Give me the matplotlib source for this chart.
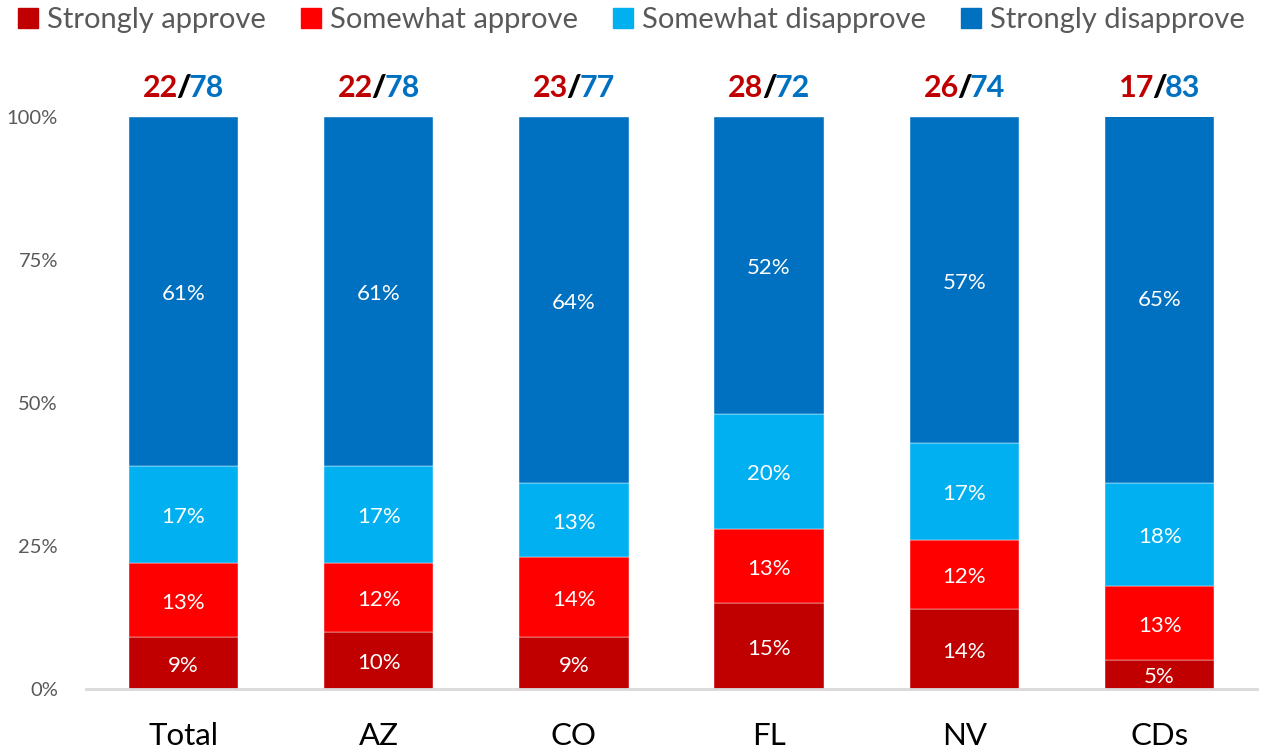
import matplotlib
matplotlib.use("Agg")
import matplotlib.pyplot as plt
import numpy as np
from matplotlib.lines import Line2D

plt.rcParams["font.family"] = ["Lato", "DejaVu Sans"]

# data
groups = ["Total", "AZ", "CO", "FL", "NV", "CDs"]
strongly_approve = [9, 10, 9, 15, 14, 5]
somewhat_approve = [13, 12, 14, 13, 12, 13]
somewhat_disapprove = [17, 17, 13, 20, 17, 18]
strongly_disapprove = [61, 61, 64, 52, 57, 65]
approve_total = [22, 22, 23, 28, 26, 17]
disapprove_total = [78, 78, 77, 72, 74, 83]

series_names = ["Strongly approve", "Somewhat approve", "Somewhat disapprove", "Strongly disapprove"]
colors = ["#C00000", "#FF0000", "#00B0F0", "#0070C0"]

fig = plt.figure(figsize=(12.61, 7.53), dpi=100)
ax = fig.add_axes([0.068, 0.085, 0.929, 0.76])

x = np.arange(len(groups))
bottom = np.zeros(len(groups))
for name, vals, col in zip(series_names,
                           [strongly_approve, somewhat_approve, somewhat_disapprove, strongly_disapprove],
                           colors):
    vals = np.array(vals, dtype=float)
    ax.bar(x, vals, 0.56, bottom=bottom, color=col, edgecolor="#ffffff", linewidth=0.3, zorder=2)
    # white percent labels in the middle of each segment
    for xi, b, v in zip(x, bottom, vals):
        ax.annotate(f"{int(v)}%", (xi, b + v / 2), xytext=(0, -2), textcoords="offset points",
                    ha="center", va="center", color="white", fontsize=16, zorder=3)
    bottom += vals

# approve/disapprove totals above each bar
for xi, a, d in zip(x, approve_total, disapprove_total):
    y = 1.035
    tr = ax.get_xaxis_transform()
    ax.annotate("/", (xi, y), xycoords=tr, ha="center", va="baseline",
                fontsize=22, fontweight="heavy", color="black")
    ax.annotate(str(a), (xi, y), xycoords=tr, xytext=(-4, 0), textcoords="offset points",
                ha="right", va="baseline", fontsize=22, fontweight="bold", color="#C00000")
    ax.annotate(str(d), (xi, y), xycoords=tr, xytext=(4, 0), textcoords="offset points",
                ha="left", va="baseline", fontsize=22, fontweight="bold", color="#0070C0")

ax.set_xlim(-0.5, len(groups) - 0.5)
ax.set_ylim(0, 100)
ax.set_yticks([0, 25, 50, 75, 100])
ax.set_yticklabels(["0%", "25%", "50%", "75%", "100%"])
ax.set_xticks(x)
ax.set_xticklabels(groups)
ax.tick_params(axis="y", length=0, labelsize=14.5, labelcolor="#595959", pad=20)
ax.tick_params(axis="x", length=0, labelsize=22.5, labelcolor="black", pad=24)

for side in ["top", "right", "left"]:
    ax.spines[side].set_visible(False)
ax.spines["bottom"].set_color("#D9D9D9")
ax.spines["bottom"].set_linewidth(2)

handles = [Line2D([], [], marker="s", linestyle="none", markersize=14, color=c) for c in colors]
leg = fig.legend(handles, series_names, loc="upper center", bbox_to_anchor=(0.5, 1.025),
                 ncol=4, frameon=False, fontsize=21, handletextpad=0.25, columnspacing=1.15,
                 handlelength=0.8)
for t in leg.get_texts():
    t.set_color("#595959")

fig.savefig("out.png", dpi=100)
